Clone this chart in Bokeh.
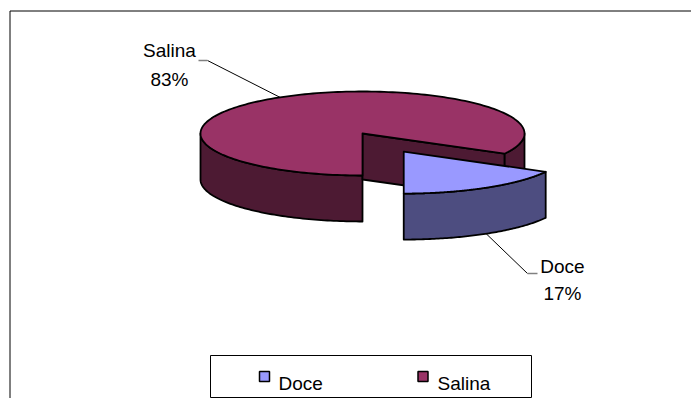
import numpy as np
from bokeh.plotting import figure
from bokeh.models import Range1d
from bokeh.embed import file_html
from bokeh.resources import INLINE
from bokeh.core.properties import value

# ---- data ----
categories = ["Doce", "Salina"]
shares = [17, 83]
pct_labels = ["17%", "83%"]
top_colors = ["#9999FF", "#993366"]
side_colors = ["#4D4D80", "#4D1A33"]
explode = [0.5, 0.0]

# ---- layout constants (figure pixel space, y downwards) ----
W, H = 691, 398
CX, CY = 362, 133
RX, RY = 162, 42
DEPTH = 46
START = 270.0
FONT = value("Liberation Sans")
FS = "19px"

label_x = [562, 169]
label_y1 = [266, 50]
label_y2 = [293, 79]
elbow = [(527, 273), (207, 60)]
stub = [(537, 273), (198, 60)]

legend_box = (210, 531, 355, 397)
legend_marker_x = [264, 422.5]
legend_text_x = [278, 437]
legend_y = 376
legend_baseline = 383

p = figure(width=W, height=H, output_backend="svg", toolbar_location=None,
           x_range=Range1d(0, W), y_range=Range1d(H, 0),
           x_axis_location=None, y_axis_location=None, min_border=0)
p.grid.visible = False
p.outline_line_color = None
p.background_fill_color = "white"
p.border_fill_color = "white"

# chart area border (left and top visible)
p.line(x=[9.5, 9.5, W], y=[H, 10.5, 10.5], line_color="black", line_width=1)

total = float(sum(shares))
spans = []
a = START
for s in shares:
    b = a + 360.0 * s / total
    spans.append((a, b))
    a = b


def offset(i):
    mid = np.radians((spans[i][0] + spans[i][1]) / 2)
    return explode[i] * RX * np.cos(mid), -explode[i] * RY * np.sin(mid)


def arc(i, a0, a1, z=0.0, n=80):
    ox, oy = offset(i)
    t = np.radians(np.linspace(a0, a1, n))
    return list(CX + ox + RX * np.cos(t)), list(CY + oy - RY * np.sin(t) + z)


order = sorted(range(len(shares)), key=lambda i: explode[i])
for i in order:
    s, e = spans[i]
    ox, oy = offset(i)
    xs, ys, fc = [], [], []
    # outer walls (front half only)
    for k in range(-1, 3):
        lo, hi = max(s, 180 + 360 * k), min(e, 360 + 360 * k)
        if hi > lo:
            tx, ty = arc(i, lo, hi)
            bx, by = arc(i, hi, lo, DEPTH)
            xs.append(tx + bx); ys.append(ty + by); fc.append(side_colors[i])
    # cut faces
    for ang, nrm in ((s, s - 90), (e, e + 90)):
        if np.sin(np.radians(nrm)) < -1e-6:
            r = np.radians(ang)
            px, py = CX + ox + RX * np.cos(r), CY + oy - RY * np.sin(r)
            xs.append([CX + ox, px, px, CX + ox])
            ys.append([CY + oy, py, py + DEPTH, CY + oy + DEPTH])
            fc.append(side_colors[i])
    # top
    tx, ty = arc(i, s, e, 0, 200)
    xs.append([CX + ox] + tx); ys.append([CY + oy] + ty); fc.append(top_colors[i])
    p.patches(xs=xs, ys=ys, fill_color=fc, line_color="black", line_width=1.8,
              line_join="round")

# data labels with leader lines
for i in range(len(shares)):
    s, e = spans[i]
    mid = (s + e) / 2
    ox, oy = offset(i)
    r = np.radians(mid)
    z = DEPTH if np.sin(r) < 0 else 0
    sx, sy = CX + ox + RX * np.cos(r), CY + oy - RY * np.sin(r) + z
    p.line(x=[sx, elbow[i][0]], y=[sy, elbow[i][1]], line_color="black", line_width=1)
    p.line(x=[elbow[i][0], stub[i][0]], y=[elbow[i][1], stub[i][1]],
           line_color="#808080", line_width=1.5)
    p.text(x=[label_x[i]], y=[label_y1[i]], text=[categories[i]], text_font=FONT,
           text_font_size=FS, text_align="center", text_baseline="alphabetic",
           text_color="black")
    p.text(x=[label_x[i]], y=[label_y2[i]], text=[pct_labels[i]], text_font=FONT,
           text_font_size=FS, text_align="center", text_baseline="alphabetic",
           text_color="black")

# legend
l, r_, t, b = legend_box
p.quad(left=[l], right=[r_], top=[t], bottom=[b], fill_color="white",
       line_color="black", line_width=1)
p.rect(x=legend_marker_x, y=[legend_y] * len(categories), width=10, height=10,
       fill_color=top_colors, line_color="black", line_width=1.5)
p.text(x=legend_text_x, y=[legend_baseline] * len(categories), text=categories,
       text_font=FONT, text_font_size=FS, text_align="left",
       text_baseline="alphabetic", text_color="black")

open("out.html", "w").write(file_html(p, INLINE))
